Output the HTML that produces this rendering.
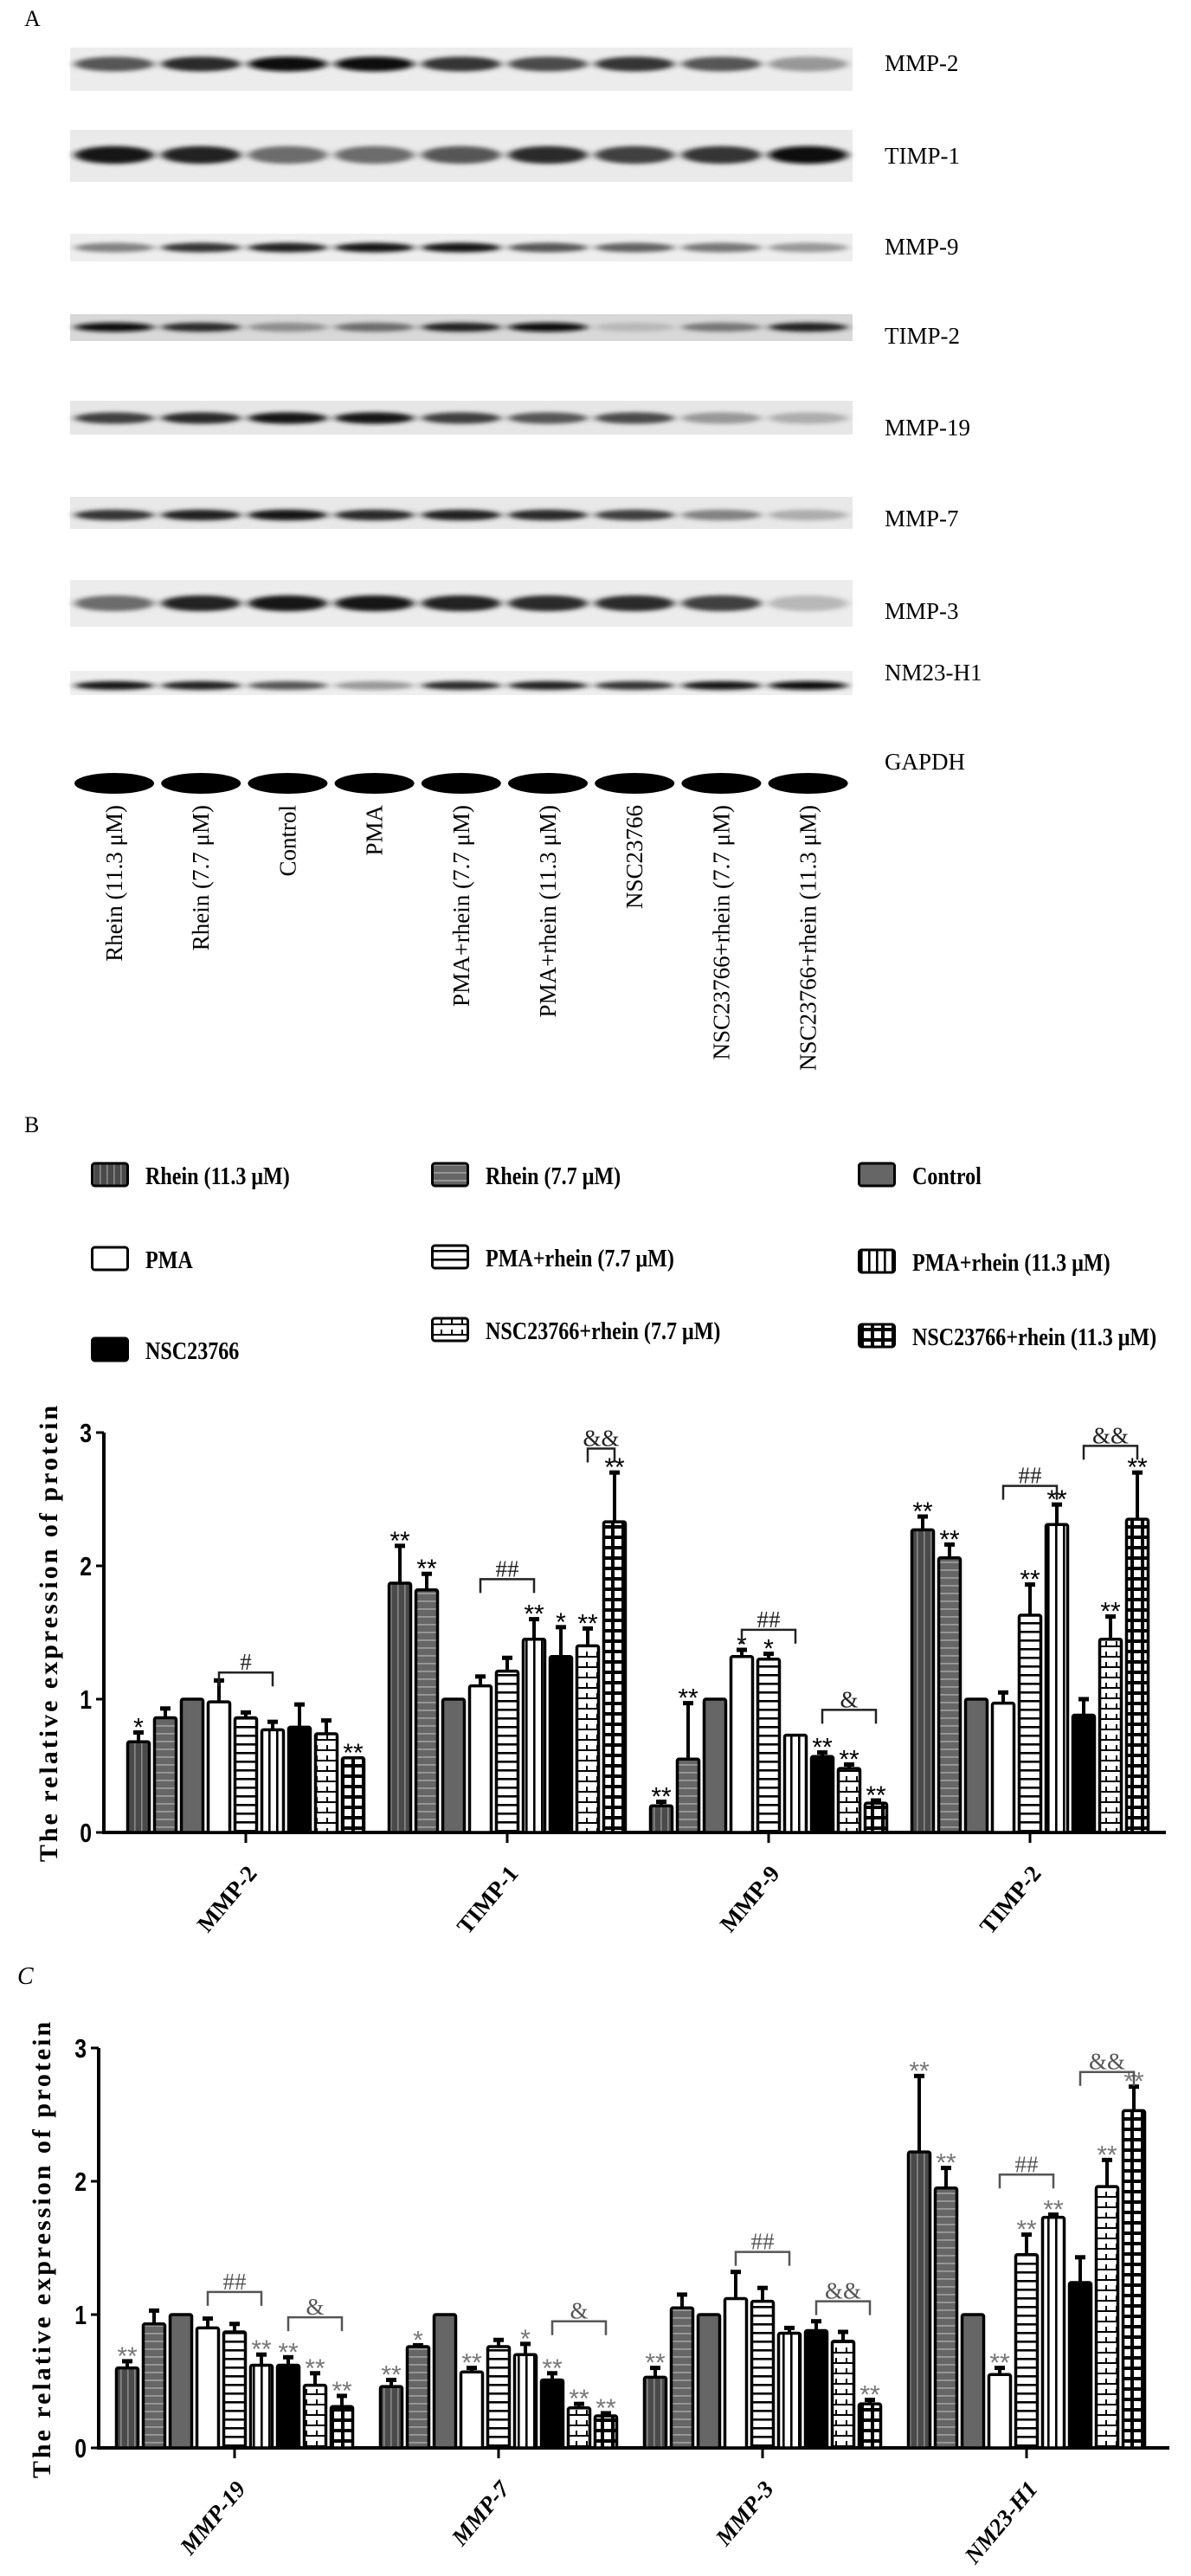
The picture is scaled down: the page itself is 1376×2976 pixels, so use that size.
<!DOCTYPE html>
<html><head><meta charset="utf-8"><style>
html,body{margin:0;padding:0;background:#fff}
svg{display:block}
.serif{font-family:"Liberation Serif",serif}
.sans{font-family:"Liberation Sans",sans-serif}
</style></head><body>
<svg id="fig" xmlns="http://www.w3.org/2000/svg" width="1376" height="2976" viewBox="0 0 1376 2976">
<defs>
<filter id="blur" x="-20%" y="-100%" width="140%" height="300%"><feGaussianBlur stdDeviation="5 2.5"/></filter>
<pattern id="p0" patternUnits="userSpaceOnUse" width="8" height="8"><rect width="8" height="8" fill="#4a4a4a"/><rect x="3" width="1.6" height="8" fill="#8a8a8a"/></pattern>
<pattern id="p1" patternUnits="userSpaceOnUse" width="8" height="9"><rect width="8" height="9" fill="#666"/><rect y="4" width="8" height="1.8" fill="#9a9a9a"/></pattern>
<pattern id="p2" patternUnits="userSpaceOnUse" width="8" height="8"><rect width="8" height="8" fill="#666"/></pattern>
<pattern id="p3" patternUnits="userSpaceOnUse" width="8" height="8"><rect width="8" height="8" fill="#fff"/></pattern>
<pattern id="p4" patternUnits="userSpaceOnUse" width="8" height="10"><rect width="8" height="10" fill="#fff"/><rect y="4" width="8" height="2.6" fill="#000"/></pattern>
<pattern id="p5" patternUnits="userSpaceOnUse" width="9" height="8"><rect width="9" height="8" fill="#fff"/><rect x="4" width="2.6" height="8" fill="#000"/></pattern>
<pattern id="p6" patternUnits="userSpaceOnUse" width="8" height="8"><rect width="8" height="8" fill="#000"/></pattern>
<pattern id="p7" patternUnits="userSpaceOnUse" width="12" height="12"><rect width="12" height="12" fill="#fff"/><rect y="5" width="12" height="2" fill="#000"/><rect x="5" y="0" width="2" height="6" fill="#000"/></pattern>
<pattern id="p8" patternUnits="userSpaceOnUse" width="12" height="12"><rect width="12" height="12" fill="#000"/><rect x="2" y="2" width="8" height="8" fill="#fff"/></pattern>
</defs>
<g id="panelA"></g>
<g id="legend"></g>
<g id="chartB"></g>
<g id="chartC"></g>
</svg>
<script>
// ---- Panel A data ----
const laneLabels = ["Rhein (11.3 μM)","Rhein (7.7 μM)","Control","PMA","PMA+rhein (7.7 μM)","PMA+rhein (11.3 μM)","NSC23766","NSC23766+rhein (7.7 μM)","NSC23766+rhein (11.3 μM)"];
const blotNames = ["MMP-2","TIMP-1","MMP-9","TIMP-2","MMP-19","MMP-7","MMP-3","NM23-H1","GAPDH"];
const bandIntensity = [
 [.6,.8,.95,.95,.75,.65,.75,.6,.3],
 [.9,.85,.5,.5,.6,.8,.7,.75,.95],
 [.4,.75,.85,.9,.9,.6,.55,.45,.3],
 [.95,.8,.35,.5,.85,.95,.15,.45,.85],
 [.7,.8,.9,.9,.7,.6,.65,.3,.2],
 [.75,.85,.9,.8,.85,.8,.7,.4,.2],
 [.5,.85,.9,.9,.85,.8,.8,.7,.15],
 [.9,.85,.6,.3,.8,.85,.75,.9,.95],
 [1,1,1,1,1,1,1,1,1]
];
// ---- Chart data ----
const series = ["Rhein (11.3 μM)","Rhein (7.7 μM)","Control","PMA","PMA+rhein (7.7 μM)","PMA+rhein (11.3 μM)","NSC23766","NSC23766+rhein (7.7 μM)","NSC23766+rhein (11.3 μM)"];
const catsB = ["MMP-2","TIMP-1","MMP-9","TIMP-2"];
const valsB = [
 [0.68,0.86,1.0,0.98,0.86,0.77,0.79,0.74,0.56],
 [1.87,1.82,1.0,1.10,1.21,1.45,1.32,1.40,2.33],
 [0.20,0.55,1.0,1.32,1.30,0.73,0.57,0.48,0.22],
 [2.27,2.06,1.0,0.97,1.63,2.31,0.88,1.45,2.35]
];
const errB = [
 [0.07,0.07,0,0.16,0.04,0.06,0.17,0.10,0],
 [0.28,0.12,0,0.07,0.10,0.15,0.22,0.13,0.37],
 [0.03,0.42,0,0.05,0.04,0,0.03,0.03,0.02],
 [0.10,0.10,0,0.08,0.23,0.15,0.12,0.17,0.35]
];
const sigB = [
 ["*","","","","","","","","**"],
 ["**","**","","","","**","*","**","**"],
 ["**","**","","*","*","","**","**","**"],
 ["**","**","","","**","**","","**","**"]
];
const bracketsB = [[0,3,5,1.2,"#"],[1,3,5,1.9,"##"],[1,7,8,2.88,"&&"],[2,3,5,1.52,"##"],[2,6,8,0.92,"&"],[3,3,5,2.6,"##"],[3,6,8,2.9,"&&"]];
const catsC = ["MMP-19","MMP-7","MMP-3","NM23-H1"];
const valsC = [
 [0.60,0.93,1.0,0.90,0.87,0.62,0.62,0.47,0.31],
 [0.46,0.76,1.0,0.57,0.76,0.70,0.51,0.30,0.24],
 [0.53,1.05,1.0,1.12,1.10,0.86,0.88,0.80,0.33],
 [2.22,1.95,1.0,0.55,1.45,1.73,1.24,1.96,2.53]
];
const errC = [
 [0.05,0.10,0,0.07,0.06,0.08,0.06,0.09,0.08],
 [0.05,0.01,0,0.03,0.05,0.08,0.05,0.03,0.02],
 [0.07,0.10,0,0.20,0.10,0.04,0.07,0.07,0.03],
 [0.57,0.15,0,0.05,0.15,0.02,0.19,0.20,0.18]
];
const sigC = [
 ["**","","","","","**","**","**","**"],
 ["**","*","","**","","*","**","**","**"],
 ["**","","","","","","","","**"],
 ["**","**","","**","**","**","","**","**"]
];
const bracketsC = [[0,3,5,1.17,"##"],[0,6,8,0.98,"&"],[1,6,8,0.95,"&"],[2,3,5,1.47,"##"],[2,6,8,1.1,"&&"],[3,3,5,2.05,"##"],[3,6,8,2.82,"&&"]];
const yTicks = [0,1,2,3];

const NS="http://www.w3.org/2000/svg";
function mk(parent,tag,attrs,text){const e=document.createElementNS(NS,tag);for(const k in attrs)e.setAttribute(k,attrs[k]);if(text!==undefined)e.textContent=text;parent.appendChild(e);return e;}

// ---- Panel A ----
const A=document.getElementById('panelA');
let t=mk(A,'text',{x:28,y:30,'font-size':26,class:'serif'},'A');


const strips=[[55,105,74,"#ececec"],[150,210,179,"#eaeaea"],[270,302,286,"#eeeeee"],[363,394,378,"#d8d8d8"],[463,502,483,"#e6e6e6"],[574,611,595,"#e8e8e8"],[670,724,697,"#ececec"],[775,803,792,"#eeeeee"],[895,916,905,"#fff"]];
const labelY=[82,189,294,397,503,608,715,786,889];
blotNames.forEach((nm,r)=>{
  const g=mk(A,'g',{});
  
  
  const s=strips[r];
  mk(g,'rect',{x:81,y:s[0],width:904,height:s[1]-s[0],fill:s[3]});
  bandIntensity[r].forEach((v,i)=>{
    const cx=132+i*100.2;
    const c=Math.round(255*(1-v)*0.85);
    const h = r===8?12:Math.max(5,(s[1]-s[0])*0.17);
    mk(g,'ellipse',{cx:cx,cy:s[2],rx:46,ry:h,fill:`rgb(${c},${c},${c})`,filter:r===8?'':'url(#blur)'});
  });
  const l=mk(A,'text',{x:1022,y:labelY[r],'font-size':27,class:'serif'},nm);
  
  
});
laneLabels.forEach((nm,i)=>{
  const x=132+i*100.2+9;
  const l=mk(A,'text',{x:0,y:0,'font-size':27,class:'serif','text-anchor':'end',transform:`translate(${x},930) rotate(-90)`},nm);
  
  
});

// ---- Legend ----
const L=document.getElementById('legend');
t=mk(L,'text',{x:28,y:1308,'font-size':26,class:'serif'},'B');


const legPos=[[105,1358],[498,1358],[991,1358],[105,1455],[498,1453],[991,1458],[105,1560],[498,1537],[991,1544]];
series.forEach((nm,i)=>{
  const g=mk(L,'g',{});
  
  
  const [x,y]=legPos[i];
  mk(g,'rect',{x:x+1.5,y:y-14,width:41,height:26,rx:3,fill:`url(#p${i})`,stroke:'#000','stroke-width':3});
  mk(g,'text',{x:x+63,y:y+10,'font-size':28,'font-weight':'bold',class:'serif',transform:`translate(${x+63},0) scale(0.86,1) translate(${-(x+63)},0)`},nm);
});

// ---- Charts ----
function drawChart(G,cats,vals,errs,sigs,brs,o){
  const yS=v=>o.y0-v*o.unit;
  const xS=(g,s)=>o.gx0+g*o.gstep+(s-4)*31;
  const ax=mk(G,'path',{d:`M${o.ax},${yS(3)} V${o.y0} H${o.axEnd}`,stroke:'#000','stroke-width':4,fill:'none'});
  
  
  yTicks.forEach(v=>{
    mk(G,'line',{x1:o.ax-9,x2:o.ax,y1:yS(v),y2:yS(v),stroke:'#000','stroke-width':3});
    const tl=mk(G,'text',{x:o.ax-14,y:yS(v)+11,'font-size':31,'font-weight':'bold','text-anchor':'end',class:'sans',transform:`translate(${o.ax-14},0) scale(0.8,1) translate(${-(o.ax-14)},0)`},String(v));
    
    
  });
  const yt=mk(G,'text',{x:0,y:0,'font-size':30,'font-weight':'bold','text-anchor':'middle','letter-spacing':3,class:'serif',transform:`translate(${o.titleX},${o.titleY}) rotate(-90)`},'The relative expression of protein');
  
  
  cats.forEach((c,g)=>{
    const tx=o.gx0+g*o.gstep;
    mk(G,'line',{x1:tx,x2:tx,y1:o.y0,y2:o.y0+12,stroke:'#000','stroke-width':3});
    const xl=mk(G,'text',{x:0,y:0,'font-size':27,'font-weight':'bold','font-style':o.italic?'italic':'normal','text-anchor':'end',class:'serif',transform:`translate(${tx+14},${o.y0+48}) rotate(-50)`},c);
    
    
    vals[g].forEach((v,s)=>{
      const cx=xS(g,s), top=yS(v);
      const b=mk(G,'rect',{x:cx-12.5,y:top,width:25,height:o.y0-top,fill:`url(#p${s})`,stroke:'#000','stroke-width':3.5,rx:2});
      
      
      const e=errs[g][s];
      let ty=top;
      if(e>0){
        const et=yS(v+e);
        mk(G,'line',{x1:cx,x2:cx,y1:top,y2:et,stroke:'#000','stroke-width':4});
        mk(G,'line',{x1:cx-6,x2:cx+6,y1:et,y2:et,stroke:'#000','stroke-width':5});
        ty=et;
      }
      if(sigs[g][s]){
        const st=mk(G,'text',{x:cx,y:ty+4,'font-size':30,'text-anchor':'middle',fill:o.starColor,class:'sans'},sigs[g][s]);
        
        
      }
    });
  });
  brs.forEach(br=>{
    const [g,a,b2,lv,lab]=br;
    const x1=xS(g,a),x2=xS(g,b2),y=yS(lv);
    const p=mk(G,'path',{d:`M${x1},${y+16} V${y} H${x2} V${y+16}`,stroke:o.brColor,'stroke-width':2.5,fill:'none'});
    
    
    const bl=mk(G,'text',{x:(x1+x2)/2,y:y-3,'font-size':27,'text-anchor':'middle',fill:o.brColor,class:'serif'},lab);
    
    
  });
}
drawChart(document.getElementById('chartB'),catsB,valsB,errB,sigB,bracketsB,{y0:2117,unit:154,ax:120,axEnd:1347,gx0:284,gstep:302,titleX:66,titleY:1886,italic:false,starColor:'#000',brColor:'#222'});
const CG=document.getElementById('chartC');
t=mk(CG,'text',{x:20,y:2292,'font-size':28,'font-style':'italic',class:'serif'},'C');


drawChart(CG,catsC,valsC,errC,sigC,bracketsC,{y0:2828,unit:154,ax:114,axEnd:1351,gx0:271,gstep:305,titleX:58,titleY:2598,italic:true,starColor:'#777',brColor:'#555'});
</script>
</body></html>
